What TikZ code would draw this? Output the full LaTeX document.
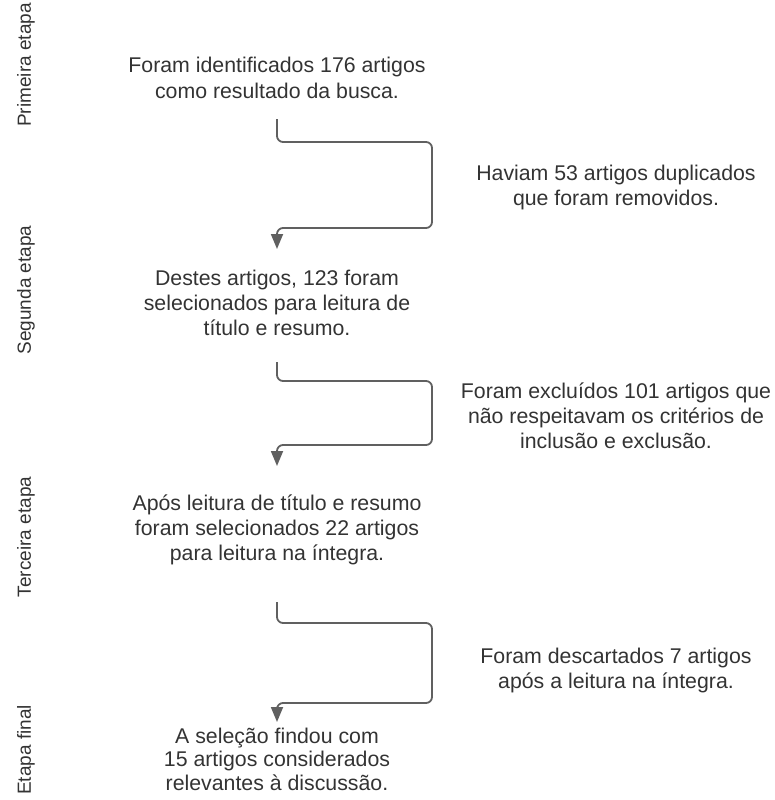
\documentclass[tikz,border=0pt]{standalone}
\usepackage{fontspec}
\setmainfont{Liberation Sans}
\usetikzlibrary{arrows.meta}
\definecolor{txt}{HTML}{333333}
\definecolor{ln}{HTML}{606060}
\tikzset{
  body/.style={align=center, text=txt, font=\fontsize{21.3}{25}\selectfont, inner sep=0pt, anchor=base},
  stage/.style={rotate=90, text=txt, font=\fontsize{19}{22}\selectfont, inner sep=0pt},
  conn/.style={draw=ln, line width=1.8pt, rounded corners=6pt, -{Triangle[width=12pt,length=15pt]}}
}
\begin{document}
\begin{tikzpicture}[x=1pt,y=-1pt]
\useasboundingbox (0,0) rectangle (774,800);
% stage labels
\node[stage] (st1) at (26,65) {Primeira etapa};
\node[stage] (st2) at (26,290) {Segunda etapa};
\node[stage] (st3) at (26,537) {Terceira etapa};
\node[stage] (st4) at (26,750) {Etapa final};
% main texts (placed at last baseline)
\node[body] (b1) at (277,98) {Foram identificados 176 artigos\\como resultado da busca.};
\node[body] (b2) at (277,335) {Destes artigos, 123 foram\\selecionados para leitura de\\título e resumo.};
\node[body] (b3) at (277,560) {Após leitura de título e resumo\\foram selecionados 22 artigos\\para leitura na íntegra.};
\node[body, font=\fontsize{21.3}{23.5}\selectfont] (b4) at (277,790) {A seleção findou com\\15 artigos considerados\\relevantes à discussão.};
% side texts
\node[body] (r1) at (616,205) {Haviam 53 artigos duplicados\\que foram removidos.};
\node[body] (r2) at (616,448) {Foram excluídos 101 artigos que\\não respeitavam os critérios de\\inclusão e exclusão.};
\node[body] (r3) at (616,688) {Foram descartados 7 artigos\\após a leitura na íntegra.};
% connector endpoints
\coordinate (s1) at (277,119);
\coordinate (e1) at (277,249);
\coordinate (s2) at (277,362);
\coordinate (e2) at (277,466);
\coordinate (s3) at (277,602);
\coordinate (e3) at (277,722);
\draw[conn] (s1) |- (432,142) |- (277,228) -- (e1);
\draw[conn] (s2) |- (432,381) |- (277,445) -- (e2);
\draw[conn] (s3) |- (432,623) |- (277,703) -- (e3);
\end{tikzpicture}
\end{document}
